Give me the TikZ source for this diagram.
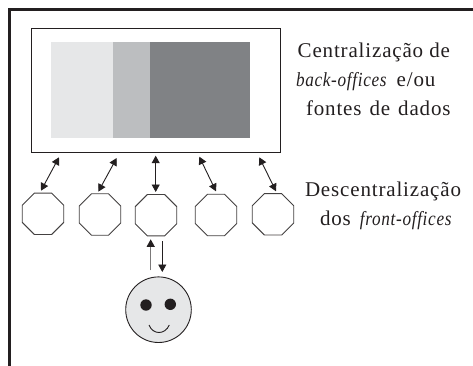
\documentclass[tikz,border=0pt]{standalone}
\usepackage{graphicx}
\usepackage{fontspec}
\setmainfont{Liberation Serif}
\usetikzlibrary{arrows.meta,shapes.geometric}
\definecolor{ink}{HTML}{231F20}
\definecolor{pale}{HTML}{E6E7E8}
\definecolor{midg}{HTML}{BCBEC0}
\definecolor{darkg}{HTML}{808285}
\newfontfamily\lsfont[LetterSpace=4.0]{Liberation Serif}
\newcommand{\narrowit}[1]{\scalebox{0.86}[1]{\fontsize{20}{20}\itshape #1}}
\tikzset{
  octa/.style={draw=ink!85,line width=0.9pt,regular polygon,regular polygon sides=8,minimum size=44.9pt,inner sep=0pt,outer sep=0pt,fill=white},
  bi/.style={draw=ink,line width=0.9pt,{Triangle[length=7.5pt,width=8pt]}-{Triangle[length=7.5pt,width=8pt]}},
  uni/.style={line width=0.9pt,-{Triangle[length=7.5pt,width=8pt,color=ink]}},
  lab/.style={anchor=base west,inner sep=0pt,outer sep=0pt,text=ink,font=\fontsize{21}{21}\lsfont},
  band/.style={draw=none,inner sep=0pt,outer sep=0pt,anchor=north west}
}
\begin{document}
\begin{tikzpicture}[x=1pt,y=-1pt]
\useasboundingbox (0,0) rectangle (473,366);
\fill[white] (0,0) rectangle (473,366);
\draw[ink,line width=3pt] (9.5,366) -- (9.5,9.5) -- (473,9.5);
\node[draw=ink,line width=1pt,anchor=north west,minimum width=249pt,minimum height=124pt,inner sep=0pt,outer sep=0pt] (box) at (31.7,28.7) {};
\node[band,fill=pale,minimum width=62pt,minimum height=96pt] (b1) at (51,42) {};
\node[band,fill=midg,minimum width=37pt,minimum height=96pt] (b2) at (113,42) {};
\node[band,fill=darkg,minimum width=100pt,minimum height=96pt] (b3) at (150,42) {};
\node[octa] (o1) at (43,213.8) {};
\node[octa] (o2) at (100,214.5) {};
\node[octa] (o3) at (156,215.2) {};
\node[octa] (o4) at (216,215) {};
\node[octa] (o5) at (273,214.3) {};
\coordinate (u1) at (59,157.3); \coordinate (d1) at (41,190.7);
\coordinate (u2) at (116.7,158); \coordinate (d2) at (98.3,191.7);
\coordinate (u3) at (155.7,155.7); \coordinate (d3) at (155.7,192);
\coordinate (u4) at (199.3,156.7); \coordinate (d4) at (216,191.3);
\coordinate (u5) at (259.3,157.3); \coordinate (d5) at (276,191.3);
\foreach \i in {1,...,5}{\draw[bi] (u\i) -- (d\i);}
\node[circle,draw=ink,fill=pale,line width=0.9pt,minimum size=65.6pt,inner sep=0pt,outer sep=0pt] (face) at (158.5,309.7) {};
\coordinate (fu) at (150.7,270.3); \coordinate (ou) at (150.7,239.3);
\coordinate (od) at (162.3,241); \coordinate (fd) at (162.3,272);
\draw[uni,draw=ink!60] (fu) -- (ou);
\draw[uni,draw=ink] (od) -- (fd);
\node[circle,fill=ink,minimum size=11.4pt,inner sep=0pt] (e1) at (146,305) {};
\node[circle,fill=ink,minimum size=11.4pt,inner sep=0pt] (e2) at (170.3,304.3) {};
\draw[ink,line width=0.9pt] (149,325) .. controls (153,335) and (165,335) .. (169.3,325);
\node[lab] (t1) at (297.7,58) {Centralização de};
\node[lab] (t2) at (296,86.7) {\narrowit{back-offices}\hspace*{10pt}e/ou};
\node[lab] (t3) at (306,116) {\spaceskip=8pt fontes de dados};
\node[lab] (t4) at (305,196.7) {Descentralização};
\node[lab] (t5) at (320,225) {dos\hspace*{9pt}\narrowit{front-offices}};
\end{tikzpicture}
\end{document}
